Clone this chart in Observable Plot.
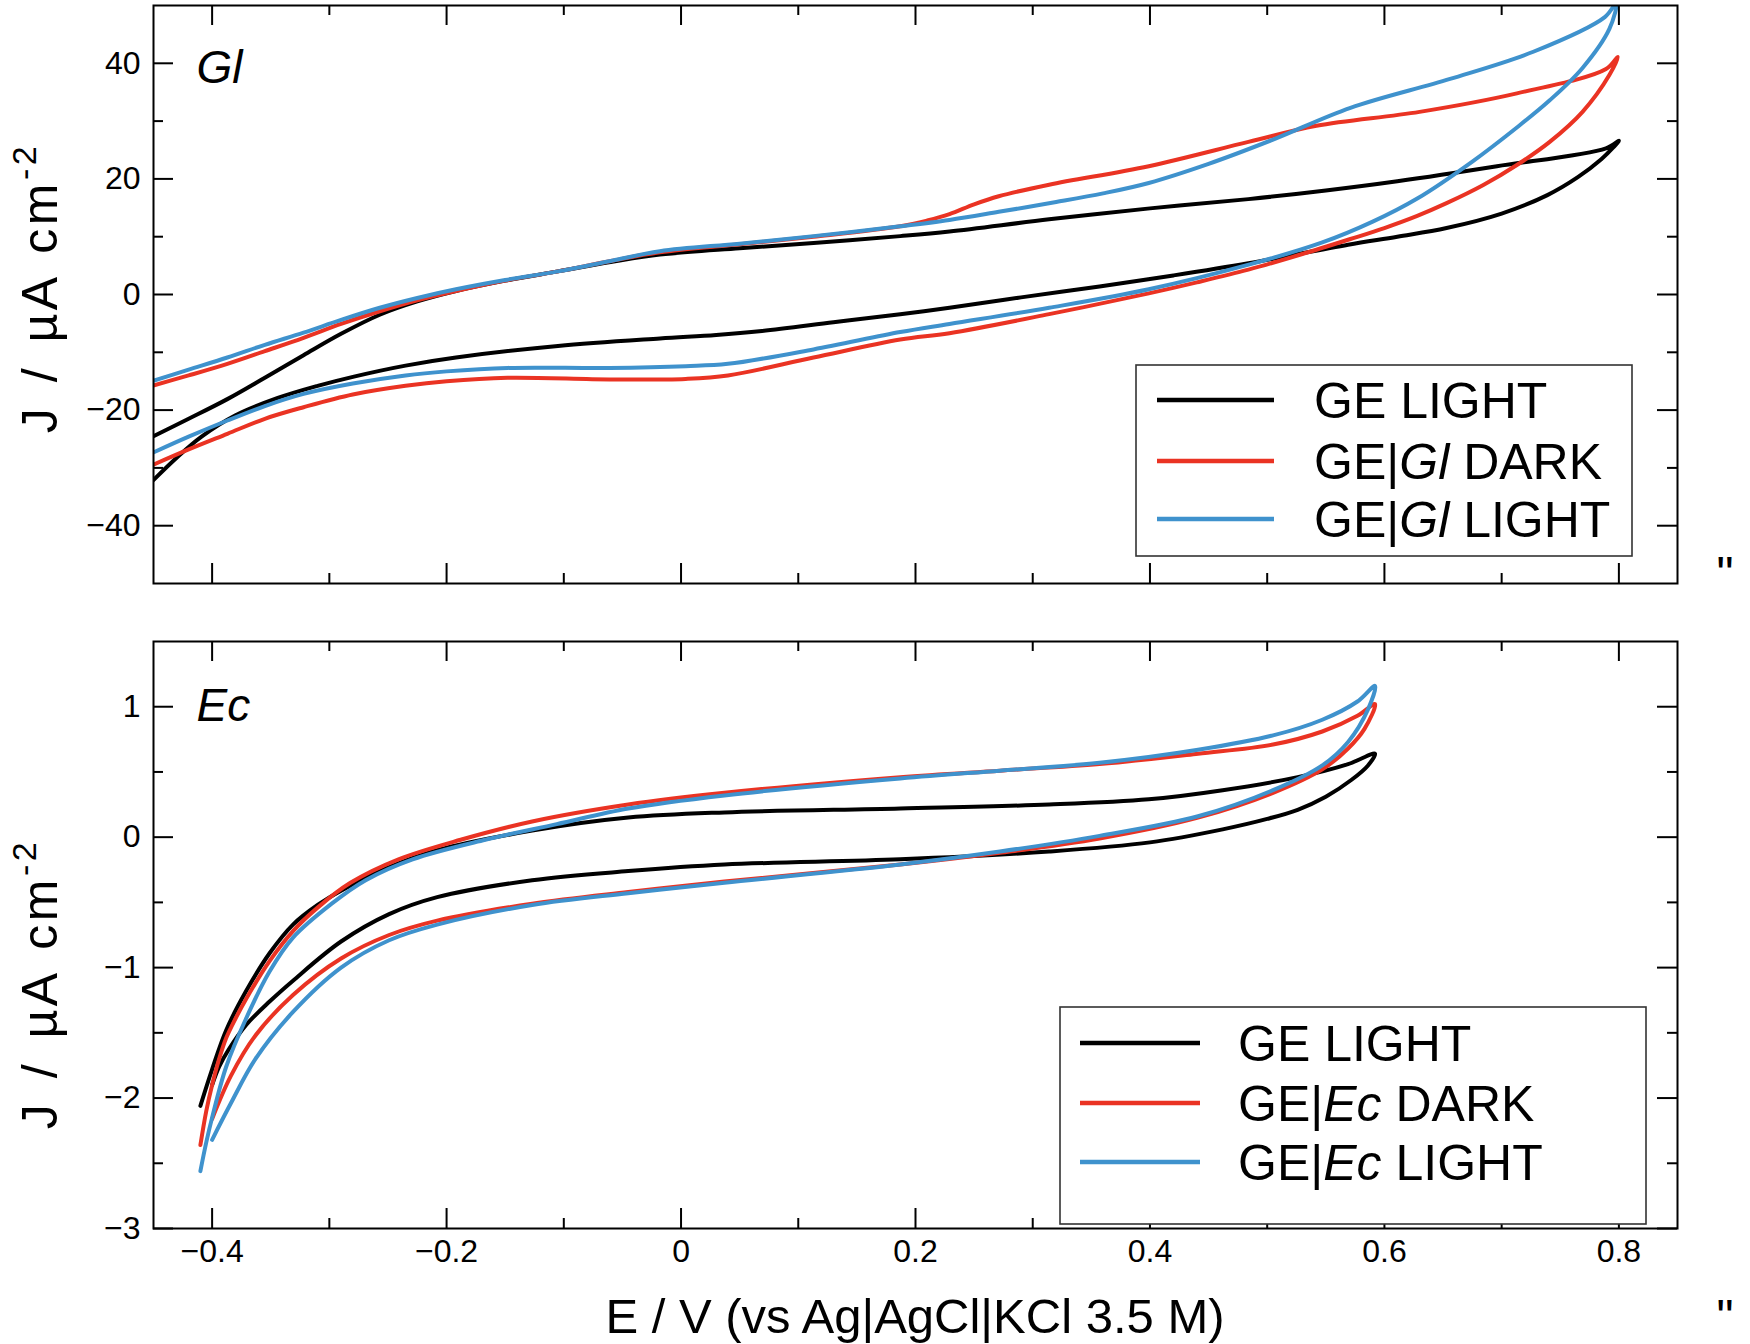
<!DOCTYPE html>
<html><head><meta charset="utf-8">
<script src="https://cdn.jsdelivr.net/npm/d3@7"></script>
<script src="https://cdn.jsdelivr.net/npm/@observablehq/plot@0.6"></script>
<style>
html,body{margin:0;padding:0;background:#fff;}
#wrap{position:relative;width:1750px;height:1344px;overflow:hidden;}
#wrap svg{position:absolute;left:0;display:block;}
</style>
</head><body><div id="wrap"></div>
<script>
// ---------- axis ticks ----------
const xDomain = [-0.45, 0.85];
const xMajor = [-0.4, -0.2, 0, 0.2, 0.4, 0.6, 0.8];
const xMinor = [-0.3, -0.1, 0.1, 0.3, 0.5, 0.7];
const glDomain = [-50, 50];
const glMajor = [-40, -20, 0, 20, 40];
const glMinor = [-30, -10, 10, 30];
const ecDomain = [-3, 1.5];
const ecMajor = [-3, -2, -1, 0, 1];
const ecMinor = [-2.5, -1.5, -0.5, 0.5];

// ---------- series names / colours ----------
const glNames = ["GE LIGHT", "GE|Gl DARK", "GE|Gl LIGHT"];
const ecNames = ["GE LIGHT", "GE|Ec DARK", "GE|Ec LIGHT"];
const seriesColors = ["#000000", "#ea3323", "#3f92cd"];

// ---------- Gl panel: [E (V), J (µA cm-2)] ----------
const glGeLight = [[-0.45,-24.5],[-0.42,-21.5],[-0.387,-18.1],[-0.355,-14.4],[-0.322,-10.5],[-0.29,-6.8],[-0.257,-3.5],[-0.225,-1.2],[-0.192,0.6],[-0.15,2.4],[-0.105,4.0],[-0.06,5.6],[-0.018,6.9],[0.05,8.0],[0.113,8.9],[0.187,10.1],[0.229,10.9],[0.314,13.0],[0.40,14.9],[0.484,16.5],[0.55,18.0],[0.611,19.6],[0.696,22.2],[0.789,25.3],[0.80,26.6],
  [0.795,25.4],[0.785,23.4],[0.765,20.3],[0.739,17.2],[0.70,14.0],[0.653,11.5],[0.611,10.0],[0.569,8.6],[0.484,5.4],[0.42,3.3],[0.357,1.4],[0.29,-0.5],[0.229,-2.3],[0.187,-3.4],[0.13,-4.8],[0.069,-6.3],[0.03,-7.0],[-0.018,-7.6],[-0.105,-8.9],[-0.192,-10.9],[-0.235,-12.3],[-0.279,-14.2],[-0.31,-15.8],[-0.344,-17.9],[-0.38,-20.9],[-0.409,-24.6],[-0.43,-28.2],[-0.453,-32.7]];
const glDark = [[-0.453,-15.9],[-0.42,-14.0],[-0.387,-12.0],[-0.355,-9.8],[-0.322,-7.5],[-0.29,-5.1],[-0.257,-2.9],[-0.225,-1.0],[-0.192,0.6],[-0.15,2.4],[-0.105,4.0],[-0.06,5.8],[-0.018,7.3],[0.05,8.7],[0.113,10.0],[0.187,11.8],[0.21,12.8],[0.229,13.9],[0.25,15.6],[0.271,17.0],[0.314,19.0],[0.399,22.2],[0.484,26.4],[0.542,29.2],[0.63,31.6],[0.713,34.8],[0.789,39.0],[0.799,41.1],
  [0.792,38.0],[0.769,31.6],[0.741,26.4],[0.713,22.4],[0.684,18.9],[0.653,15.8],[0.628,13.6],[0.6,11.5],[0.571,9.6],[0.53,7.0],[0.484,4.3],[0.44,2.1],[0.399,0.2],[0.314,-3.4],[0.229,-6.7],[0.187,-7.8],[0.113,-10.9],[0.04,-14.0],[0.004,-14.6],[-0.061,-14.7],[-0.148,-14.4],[-0.2,-15.0],[-0.235,-15.8],[-0.28,-17.3],[-0.322,-19.5],[-0.355,-21.5],[-0.387,-24.1],[-0.42,-26.8],[-0.453,-29.7]];
const glLight = [[-0.453,-15.1],[-0.42,-13.0],[-0.387,-10.9],[-0.355,-8.7],[-0.322,-6.6],[-0.29,-4.4],[-0.257,-2.3],[-0.225,-0.6],[-0.192,0.9],[-0.15,2.5],[-0.105,4.0],[-0.06,5.8],[-0.018,7.5],[0.05,8.8],[0.113,10.1],[0.187,11.8],[0.229,12.9],[0.271,14.3],[0.32,16.0],[0.36,17.5],[0.399,19.3],[0.45,22.6],[0.505,26.8],[0.571,32.3],[0.656,37.3],[0.727,42.0],[0.788,48.0],[0.798,50.5],
  [0.792,46.0],[0.769,39.2],[0.741,33.6],[0.713,28.9],[0.675,23.0],[0.628,16.6],[0.59,12.6],[0.547,9.0],[0.485,5.2],[0.399,0.9],[0.314,-2.3],[0.229,-5.1],[0.187,-6.5],[0.113,-9.5],[0.04,-12.0],[0.004,-12.4],[-0.061,-12.7],[-0.148,-12.7],[-0.2,-13.3],[-0.235,-14.0],[-0.28,-15.4],[-0.322,-17.2],[-0.355,-19.3],[-0.387,-21.8],[-0.42,-24.6],[-0.453,-27.6]];

// ---------- Ec panel: [E (V), J (µA cm-2)] ----------
const ecGeLight = [[-0.41,-2.06],[-0.40,-1.78],[-0.388,-1.48],[-0.371,-1.18],[-0.351,-0.89],[-0.331,-0.67],[-0.31,-0.52],[-0.29,-0.41],[-0.249,-0.23],[-0.208,-0.10],[-0.127,0.05],[-0.045,0.15],[0.037,0.19],[0.187,0.22],[0.314,0.25],[0.399,0.29],[0.462,0.36],[0.526,0.46],[0.569,0.56],[0.592,0.64],
  [0.586,0.55],[0.572,0.44],[0.55,0.31],[0.526,0.21],[0.50,0.14],[0.462,0.06],[0.40,-0.04],[0.314,-0.11],[0.187,-0.17],[0.037,-0.21],[-0.045,-0.26],[-0.127,-0.33],[-0.208,-0.46],[-0.249,-0.59],[-0.29,-0.80],[-0.331,-1.10],[-0.351,-1.26],[-0.371,-1.44],[-0.386,-1.63],[-0.394,-1.76],[-0.40,-1.90]];
const ecDark = [[-0.41,-2.36],[-0.405,-2.10],[-0.40,-1.90],[-0.394,-1.70],[-0.388,-1.54],[-0.38,-1.39],[-0.371,-1.24],[-0.351,-0.95],[-0.331,-0.72],[-0.31,-0.54],[-0.282,-0.35],[-0.241,-0.17],[-0.188,-0.02],[-0.127,0.12],[-0.045,0.25],[0.037,0.34],[0.187,0.46],[0.272,0.51],[0.357,0.56],[0.441,0.64],[0.505,0.71],[0.547,0.81],[0.577,0.93],[0.592,1.02],
  [0.583,0.83],[0.569,0.68],[0.547,0.52],[0.505,0.34],[0.441,0.15],[0.357,-0.01],[0.272,-0.12],[0.187,-0.21],[0.037,-0.34],[-0.045,-0.42],[-0.127,-0.51],[-0.208,-0.64],[-0.249,-0.75],[-0.29,-0.93],[-0.331,-1.21],[-0.363,-1.52],[-0.384,-1.83],[-0.40,-2.16]];
const ecLight = [[-0.41,-2.56],[-0.405,-2.34],[-0.40,-2.15],[-0.388,-1.76],[-0.371,-1.39],[-0.351,-1.03],[-0.331,-0.77],[-0.298,-0.51],[-0.269,-0.33],[-0.229,-0.17],[-0.167,-0.02],[-0.106,0.10],[-0.045,0.22],[0.037,0.32],[0.187,0.45],[0.272,0.51],[0.357,0.57],[0.441,0.67],[0.505,0.78],[0.547,0.90],[0.577,1.04],[0.592,1.16],
  [0.586,0.98],[0.569,0.73],[0.547,0.55],[0.505,0.36],[0.441,0.16],[0.357,0.01],[0.272,-0.11],[0.187,-0.21],[0.037,-0.35],[-0.045,-0.43],[-0.127,-0.52],[-0.208,-0.67],[-0.249,-0.79],[-0.29,-1.0],[-0.331,-1.34],[-0.363,-1.70],[-0.384,-2.04],[-0.40,-2.32]];

// ---------- text ----------
const xTitle = "E / V (vs Ag|AgCl|KCl 3.5 M)";
const yTitleMain = "J / µA cm";
const yTitleSup = "-2";

(function () {
const W = 1750, ML = 153, MR = 73;
const FONT = "'Liberation Sans', Arial, Helvetica, sans-serif";
const fmtY = d => (d < 0 ? "\u2212" : "") + Math.abs(d);
const fmtX = d => d === 0 ? "0" : (d < 0 ? "\u2212" : "") + Math.abs(d).toFixed(1);

function panel(cfg) {
  const frameH = cfg.height - cfg.marginTop - cfg.marginBottom;
  const frameW = W - ML - MR;
  const rows = [];
  cfg.series.forEach((pts, i) => pts.forEach(([E, J]) => rows.push({E, J, s: cfg.names[i]})));
  const tk = {stroke: "black", strokeWidth: 2};
  const marks = [
    Plot.line(rows, {x: "E", y: "J", z: "s", stroke: "s", strokeWidth: 4, curve: "catmull-rom", clip: true, strokeLinejoin: "round"}),
    Plot.tickX(xMajor, {x: d => d, insetTop: frameH - 20, ...tk}),
    Plot.tickX(xMajor, {x: d => d, insetBottom: frameH - 20, ...tk}),
    Plot.tickX(xMinor, {x: d => d, insetTop: frameH - 10, ...tk}),
    Plot.tickX(xMinor, {x: d => d, insetBottom: frameH - 10, ...tk}),
    Plot.tickY(cfg.yMajor, {y: d => d, insetRight: frameW - 20, ...tk}),
    Plot.tickY(cfg.yMajor, {y: d => d, insetLeft: frameW - 20, ...tk}),
    Plot.tickY(cfg.yMinor, {y: d => d, insetRight: frameW - 10, ...tk}),
    Plot.tickY(cfg.yMinor, {y: d => d, insetLeft: frameW - 10, ...tk}),
    Plot.axisY(cfg.yMajor, {tickSize: 0, tickPadding: 13, fontSize: 32, label: null, tickFormat: fmtY}),
    Plot.frame({stroke: "black", strokeWidth: 2}),
    Plot.text([cfg.tag], {frameAnchor: "top-left", text: d => d, textAnchor: "start", lineAnchor: "bottom", dx: 43, dy: cfg.tagDy, fontSize: 46, fontStyle: "italic"})
  ];
  if (cfg.showX) marks.push(Plot.axisX(xMajor, {tickSize: 0, tickPadding: 11, fontSize: 32, label: null, tickFormat: fmtX}));
  const svg = Plot.plot({
    width: W, height: cfg.height,
    marginTop: cfg.marginTop, marginBottom: cfg.marginBottom, marginLeft: ML, marginRight: MR,
    x: {domain: xDomain, axis: cfg.showX ? undefined : null},
    y: {domain: cfg.yDomain},
    color: {domain: cfg.names, range: seriesColors},
    style: {fontFamily: FONT, fontSize: "32px", color: "black", background: "white", overflow: "visible"},
    marks
  });
  const s = d3.select(svg);
  const yt = s.append("text")
    .attr("transform", `translate(57,${cfg.yTitleY}) rotate(-90)`)
    .attr("text-anchor", "middle").attr("font-family", FONT).attr("font-size", 50)
    .attr("letter-spacing", 3.5).attr("word-spacing", 5).attr("fill", "black");
  yt.append("tspan").text(yTitleMain);
  yt.append("tspan").attr("dy", -21).attr("font-size", 34).text(yTitleSup);
  const L = cfg.legend;
  const g = s.append("g").attr("font-family", FONT).attr("font-size", 50).attr("text-anchor", "start");
  g.append("rect").attr("x", L.x).attr("y", L.y).attr("width", L.w).attr("height", L.h)
    .attr("fill", "white").attr("stroke", "#333").attr("stroke-width", 1.6);
  cfg.names.forEach((name, i) => {
    const cy = L.rows[i];
    g.append("line").attr("x1", L.lx1).attr("x2", L.lx2).attr("y1", cy).attr("y2", cy)
      .attr("stroke", seriesColors[i]).attr("stroke-width", 4.5);
    const t = g.append("text").attr("x", L.tx).attr("y", cy + 18).attr("fill", "black").attr("text-anchor", "start");
    const m = name.match(/^(GE\|)(\S+)( .*)$/);
    if (m) {
      t.append("tspan").text(m[1]);
      t.append("tspan").attr("font-style", "italic").text(m[2]);
      t.append("tspan").text(m[3]);
    } else t.text(name);
  });
  s.append("text").attr("x", 1725).attr("y", cfg.quoteY).attr("text-anchor", "middle")
    .attr("font-family", FONT).attr("font-size", 48).attr("fill", "black").text("\"");
  return svg;
}

const wrap = document.getElementById("wrap");

const topSvg = panel({
  height: 620, marginTop: 5, marginBottom: 37, yDomain: glDomain, yMajor: glMajor, yMinor: glMinor,
  series: [glGeLight, glDark, glLight], names: glNames, tag: "Gl", tagDy: 77, showX: false,
  yTitleY: 288, quoteY: 590,
  legend: {x: 1136, y: 365, w: 496, h: 191, lx1: 1157, lx2: 1274, tx: 1314, rows: [400, 461, 519]}
});
topSvg.style.top = "0px";
wrap.appendChild(topSvg);

const bottomSvg = panel({
  height: 724, marginTop: 21, marginBottom: 116, yDomain: ecDomain, yMajor: ecMajor, yMinor: ecMinor,
  series: [ecGeLight, ecDark, ecLight], names: ecNames, tag: "Ec", tagDy: 79, showX: true,
  yTitleY: 364, quoteY: 713,
  legend: {x: 1060, y: 387, w: 586, h: 217, lx1: 1080, lx2: 1200, tx: 1238, rows: [423, 483, 542]}
});
bottomSvg.style.top = "620px";
d3.select(bottomSvg).append("text").attr("x", (ML + W - MR) / 2).attr("y", 713)
  .attr("text-anchor", "middle").attr("font-family", FONT).attr("font-size", 49).attr("fill", "black").text(xTitle);
wrap.appendChild(bottomSvg);
})();
</script>
</body></html>
